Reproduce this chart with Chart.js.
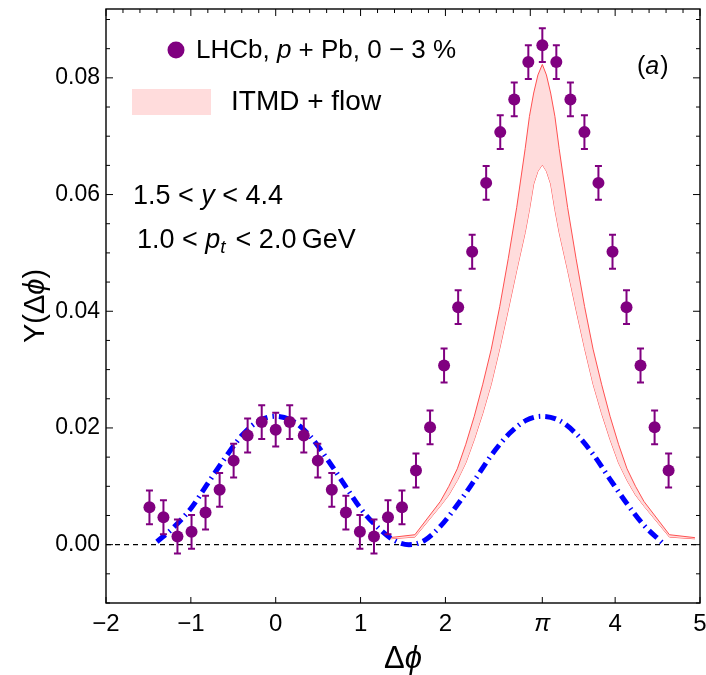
<!DOCTYPE html>
<html>
<head>
<meta charset="utf-8">
<script src="https://cdn.jsdelivr.net/npm/chart.js@4/dist/chart.umd.min.js"></script>
<style>
  html, body { margin: 0; padding: 0; background: #fff; }
  #wrap { width: 706px; height: 675px; }
</style>
</head>
<body>
<div id="wrap"><canvas id="chart" width="706" height="675"></canvas></div>
<script>
// LHCb p+Pb 0-3% yield, bin centres in delta phi
const lhcbPhi = [-1.488, -1.323, -1.158, -0.992, -0.827, -0.661, -0.496, -0.331, -0.165, 0.000,
  0.165, 0.331, 0.496, 0.661, 0.827, 0.992, 1.158, 1.323, 1.488, 1.653,
  1.819, 1.984, 2.150, 2.315, 2.480, 2.646, 2.811, 2.977, 3.142, 3.307,
  3.473, 3.638, 3.803, 3.969, 4.134, 4.299, 4.465, 4.630];
const lhcbY = [0.0064, 0.0047, 0.0014, 0.0022, 0.0055, 0.0094, 0.0144, 0.0187, 0.0210, 0.0197,
  0.0210, 0.0187, 0.0144, 0.0094, 0.0055, 0.0022, 0.0014, 0.0047, 0.0064, 0.0127,
  0.0201, 0.0307, 0.0407, 0.0502, 0.0620, 0.0707, 0.0763, 0.0827, 0.0856, 0.0827,
  0.0763, 0.0707, 0.0620, 0.0502, 0.0407, 0.0307, 0.0201, 0.0127];
const lhcbErr = [0.0029, 0.0029, 0.0029, 0.0029, 0.0029, 0.0029, 0.0029, 0.0029, 0.0029, 0.0029,
  0.0029, 0.0029, 0.0029, 0.0029, 0.0029, 0.0029, 0.0029, 0.0029, 0.0029, 0.0029,
  0.0029, 0.0029, 0.0029, 0.0029, 0.0029, 0.0029, 0.0029, 0.0029, 0.0029, 0.0029,
  0.0029, 0.0029, 0.0029, 0.0029, 0.0029, 0.0029, 0.0029, 0.0029];

// ITMD + flow band (upper / lower edge)
const bandPhi = [1.34, 1.64, 1.94, 2.04, 2.14, 2.24, 2.34, 2.44, 2.54, 2.64, 2.74, 2.84, 2.94, 2.99, 3.04, 3.09, 3.142,
  3.19, 3.24, 3.29, 3.34, 3.44, 3.54, 3.64, 3.74, 3.84, 3.94, 4.04, 4.14, 4.24, 4.34, 4.64, 4.94];
const bandHigh = [0.0012, 0.0017, 0.0074, 0.0100, 0.0130, 0.0172, 0.0220, 0.0275, 0.0335, 0.0408, 0.0490, 0.0578, 0.0679, 0.0734, 0.0774, 0.0805, 0.0823,
  0.0805, 0.0774, 0.0734, 0.0679, 0.0578, 0.0490, 0.0408, 0.0335, 0.0275, 0.0220, 0.0172, 0.0130, 0.0100, 0.0074, 0.0017, 0.0012];
const bandLow = [0.0010, 0.0013, 0.0066, 0.0085, 0.0110, 0.0140, 0.0180, 0.0225, 0.0275, 0.0336, 0.0402, 0.0470, 0.0535, 0.0574, 0.0618, 0.0640, 0.0651,
  0.0640, 0.0618, 0.0574, 0.0535, 0.0470, 0.0402, 0.0336, 0.0275, 0.0225, 0.0180, 0.0140, 0.0110, 0.0085, 0.0066, 0.0013, 0.0010];

// ITMD curve without flow (blue dot-dashed)
const itmdPhi = [-1.40, -1.20, -1.00, -0.80, -0.60, -0.40, -0.20, 0.00, 0.20, 0.40, 0.60, 0.80, 1.00, 1.20, 1.40, 1.57,
  1.75, 1.95, 2.15, 2.35, 2.55, 2.75, 2.95, 3.14, 3.34, 3.54, 3.74, 3.94, 4.14, 4.34, 4.55];
const itmdY = [0.0005, 0.0030, 0.0062, 0.0105, 0.0148, 0.0187, 0.0212, 0.0220, 0.0212, 0.0187, 0.0148, 0.0105, 0.0062, 0.0030, 0.0007, 0.0000,
  0.0007, 0.0033, 0.0070, 0.0112, 0.0155, 0.0190, 0.0213, 0.0220, 0.0213, 0.0190, 0.0155, 0.0112, 0.0070, 0.0033, 0.0004];

const xTicks = [-2, -1, 0, 1, 2, Math.PI, 4, 5];
const yTicks = [0, 0.02, 0.04, 0.06, 0.08];

const FONT = '"Liberation Sans", Arial, sans-serif';
const PURPLE = '#800080';

const pts = (xs, ys) => xs.map((x, i) => ({ x: x, y: ys[i] }));
const isPi = v => Math.abs(v - Math.PI) < 1e-9;

// draw a line of text made of runs with their own style
function drawRuns(ctx, runs, x, y, align) {
  let total = 0;
  runs.forEach(r => {
    ctx.font = (r.it ? 'italic ' : '') + r.size + 'px ' + FONT;
    r.w = ctx.measureText(r.t).width + (r.gap || 0);
    total += r.w;
  });
  if (align === 'center') x -= total / 2;
  ctx.textAlign = 'left';
  ctx.textBaseline = 'alphabetic';
  runs.forEach(r => {
    ctx.font = (r.it ? 'italic ' : '') + r.size + 'px ' + FONT;
    ctx.fillText(r.t, x, y + (r.dy || 0));
    x += r.w;
  });
}

const errorBars = {
  id: 'errorBars',
  beforeDatasetDraw(chart, args) {
    if (args.index !== 0) return;
    const { ctx, scales: { x, y } } = chart;
    ctx.save();
    ctx.strokeStyle = PURPLE;
    ctx.lineWidth = 2;
    lhcbPhi.forEach((phi, i) => {
      const px = x.getPixelForValue(phi);
      const top = y.getPixelForValue(lhcbY[i] + lhcbErr[i]);
      const bot = y.getPixelForValue(lhcbY[i] - lhcbErr[i]);
      ctx.beginPath();
      ctx.moveTo(px, top); ctx.lineTo(px, bot);
      ctx.moveTo(px - 3.5, top); ctx.lineTo(px + 3.5, top);
      ctx.moveTo(px - 3.5, bot); ctx.lineTo(px + 3.5, bot);
      ctx.stroke();
    });
    ctx.restore();
  }
};

const frameAndText = {
  id: 'frameAndText',
  beforeDatasetsDraw(chart) {
    // dashed zero line
    const { ctx, chartArea: a, scales: { y } } = chart;
    const py = y.getPixelForValue(0);
    ctx.save();
    ctx.strokeStyle = '#000';
    ctx.lineWidth = 1.2;
    ctx.setLineDash([5, 4]);
    ctx.beginPath();
    ctx.moveTo(a.left, py); ctx.lineTo(a.right, py);
    ctx.stroke();
    ctx.restore();
  },
  afterDraw(chart) {
    const { ctx, chartArea: a, scales: { x, y } } = chart;
    ctx.save();
    ctx.strokeStyle = '#000';
    ctx.lineWidth = 1.4;
    ctx.strokeRect(a.left, a.top, a.right - a.left, a.bottom - a.top);

    ctx.lineWidth = 1;
    ctx.beginPath();
    // bottom: labelled ticks only
    xTicks.forEach(v => {
      const px = x.getPixelForValue(v);
      ctx.moveTo(px, a.bottom); ctx.lineTo(px, a.bottom - 6);
    });
    // top: integers with 0.2 minors
    for (let i = -10; i <= 25; i++) {
      const px = x.getPixelForValue(i / 5);
      const len = i % 5 === 0 ? 7 : 4;
      ctx.moveTo(px, a.top); ctx.lineTo(px, a.top + len);
    }
    // left and right: 0.02 majors, 0.005 minors
    for (let j = -2; j <= 18; j++) {
      const py = y.getPixelForValue(j * 0.005);
      const len = j % 4 === 0 ? 7 : 4;
      ctx.moveTo(a.left, py); ctx.lineTo(a.left + len, py);
      ctx.moveTo(a.right, py); ctx.lineTo(a.right - len, py);
    }
    ctx.stroke();

    // legend
    ctx.fillStyle = PURPLE;
    ctx.beginPath();
    ctx.arc(176, 50, 8.5, 0, Math.PI * 2);
    ctx.fill();
    ctx.fillStyle = '#000';
    drawRuns(ctx, [
      { t: 'LHCb, ', size: 26 },
      { t: 'p', size: 26, it: true },
      { t: ' + Pb, 0 \u2212 3 %', size: 26 }
    ], 196, 58);
    ctx.fillStyle = '#ffdcdc';
    ctx.fillRect(132, 89, 79, 26);
    ctx.fillStyle = '#000';
    drawRuns(ctx, [{ t: 'ITMD + flow', size: 28 }], 231, 110);

    // kinematic cuts
    drawRuns(ctx, [
      { t: '1.5 < ', size: 27 },
      { t: 'y', size: 27, it: true },
      { t: ' < 4.4', size: 27 }
    ], 133, 204);
    drawRuns(ctx, [
      { t: '1.0 < ', size: 27 },
      { t: 'p', size: 27, it: true },
      { t: 't', size: 19, it: true, dy: 5, gap: 10 },
      { t: '< 2.0\u2009GeV', size: 27 }
    ], 137, 248);
    drawRuns(ctx, [
      { t: '(', size: 25 },
      { t: 'a', size: 25, it: true, gap: 1 },
      { t: ')', size: 25 }
    ], 637, 74);

    // axis titles
    drawRuns(ctx, [
      { t: '\u0394', size: 31 },
      { t: '\u03d5', size: 31, it: true }
    ], (a.left + a.right) / 2, 668, 'center');
    ctx.translate(44, (a.top + a.bottom) / 2);
    ctx.rotate(-Math.PI / 2);
    drawRuns(ctx, [
      { t: 'Y(\u0394', size: 29 },
      { t: '\u03d5', size: 29, it: true },
      { t: ')', size: 29 }
    ], 0, 0, 'center');
    ctx.restore();
  }
};

new Chart(document.getElementById('chart').getContext('2d'), {
  type: 'scatter',
  data: {
    datasets: [
      {
        label: 'LHCb',
        data: pts(lhcbPhi, lhcbY),
        backgroundColor: PURPLE,
        borderColor: PURPLE,
        pointRadius: 6,
        pointBorderWidth: 0,
        showLine: false
      },
      {
        label: 'ITMD',
        data: pts(itmdPhi, itmdY),
        showLine: true,
        borderColor: '#0000ff',
        borderWidth: 5,
        borderDash: [11, 5, 1.5, 5],
        borderCapStyle: 'butt',
        cubicInterpolationMode: 'monotone',
        pointRadius: 0,
        fill: false
      },
      {
        label: 'ITMD + flow high',
        data: pts(bandPhi, bandHigh),
        showLine: true,
        borderColor: '#ff5050',
        borderWidth: 1,
        backgroundColor: '#ffdcdc',
        pointRadius: 0,
        tension: 0,
        fill: '+1'
      },
      {
        label: 'ITMD + flow low',
        data: pts(bandPhi, bandLow),
        showLine: true,
        borderColor: '#ff5050',
        borderWidth: 1,
        pointRadius: 0,
        tension: 0,
        fill: false
      }
    ]
  },
  options: {
    responsive: false,
    animation: false,
    devicePixelRatio: 1,
    layout: { padding: { top: 9, right: 6, left: 0, bottom: 0 } },
    plugins: {
      legend: { display: false },
      tooltip: { enabled: false }
    },
    scales: {
      x: {
        type: 'linear',
        min: -2,
        max: 5,
        afterBuildTicks: s => { s.ticks = xTicks.map(v => ({ value: v })); },
        afterFit: s => { s.height = 72; s.paddingLeft = 0; s.paddingRight = 0; },
        grid: { display: false, drawTicks: false },
        border: { display: false },
        ticks: {
          color: '#000',
          padding: 7,
          font: c => ({ family: FONT, size: 24, style: c.tick && isPi(c.tick.value) ? 'italic' : 'normal' }),
          callback: v => isPi(v) ? '\u03c0' : (v < 0 ? '\u2212' + Math.abs(v) : String(v))
        }
      },
      y: {
        type: 'linear',
        min: -0.01,
        max: 0.0918,
        afterBuildTicks: s => { s.ticks = yTicks.map(v => ({ value: v })); },
        afterFit: s => { s.width = 106; s.paddingTop = 0; s.paddingBottom = 0; },
        grid: { display: false, drawTicks: false },
        border: { display: false },
        ticks: {
          color: '#000',
          padding: 6,
          font: { family: FONT, size: 23 },
          callback: v => v.toFixed(2)
        }
      }
    }
  },
  plugins: [errorBars, frameAndText]
});
</script>
</body>
</html>
